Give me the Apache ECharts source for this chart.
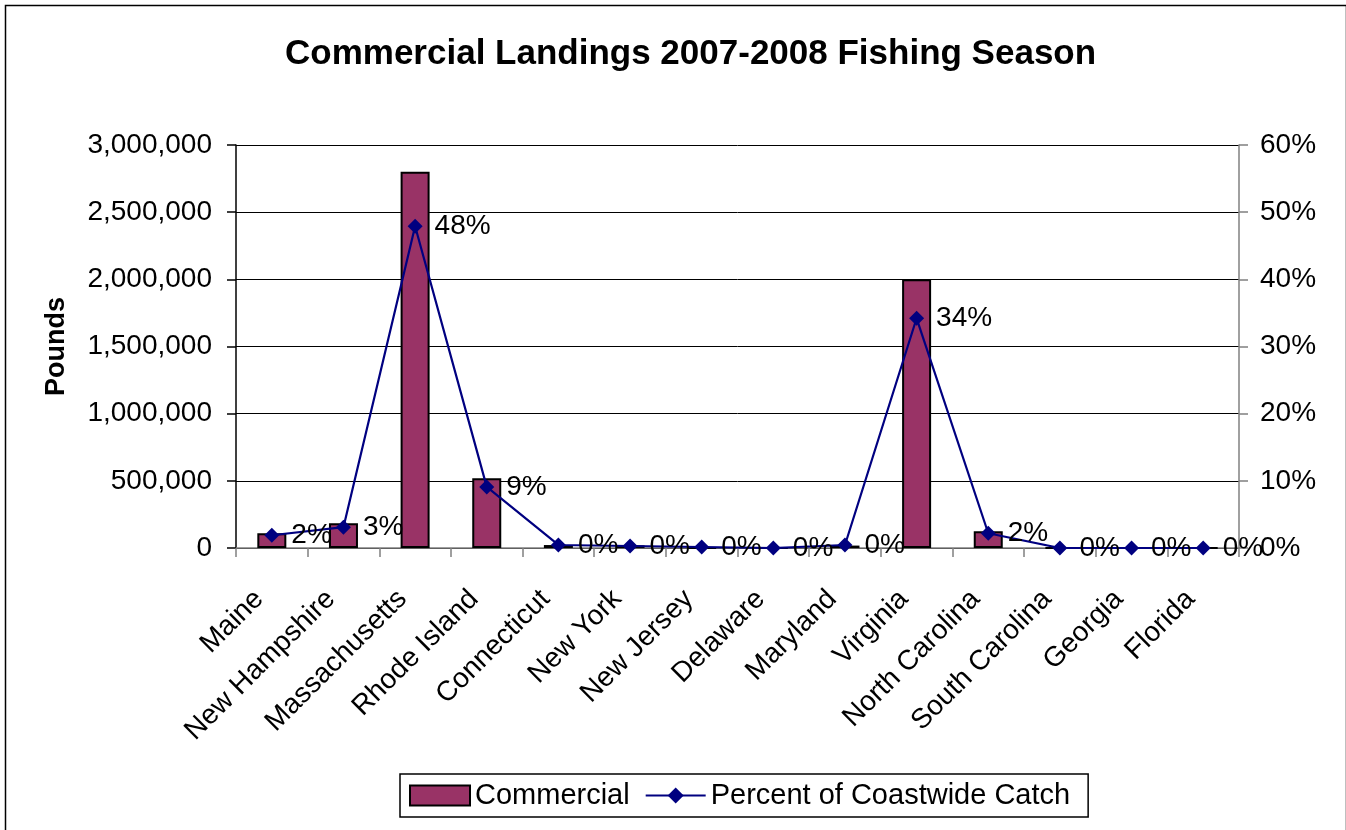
<!DOCTYPE html>
<html>
<head>
<meta charset="utf-8">
<script src="https://cdn.jsdelivr.net/npm/echarts@6/dist/echarts.min.js"></script>
<style>
html,body{margin:0;padding:0;background:#fff;}
#chart{width:1346px;height:830px;}
</style>
</head>
<body>
<div id="chart"></div>
<script>
const categories = ["Maine","New Hampshire","Massachusetts","Rhode Island","Connecticut","New York","New Jersey","Delaware","Maryland","Virginia","North Carolina","South Carolina","Georgia","Florida"];
const commercial = [110000, 185000, 2800000, 520000, 22000, 20000, 0, 0, 18000, 2000000, 125000, 0, 0, 0];
const percentCatch = [1.9, 3.1, 47.9, 9.1, 0.45, 0.3, 0.15, 0.0, 0.45, 34.2, 2.2, 0.0, 0.0, 0.0];
const leftTicks = [0, 500000, 1000000, 1500000, 2000000, 2500000, 3000000];
const rightTicks = [0, 10, 20, 30, 40, 50, 60];

const FONT = '"Liberation Sans", Arial, sans-serif';
const chart = echarts.init(document.getElementById('chart'));
chart.setOption({
  animation: false,
  backgroundColor: '#fff',
  textStyle: { fontFamily: FONT, color: '#000' },
  graphic: [{
    type: 'rect', left: 3, top: 3,
    shape: { width: 1341, height: 840 },
    style: { fill: 'none', stroke: '#000', lineWidth: 1.5 },
    silent: true, z: -1
  }],
  title: {
    text: 'Commercial Landings 2007-2008 Fishing Season',
    left: 280, top: 32,
    textStyle: { fontFamily: FONT, fontSize: 35, fontWeight: 'bold', color: '#000' }
  },
  legend: {
    top: 774, left: 400,
    padding: [7, 18, 7, 9],
    borderColor: '#000', borderWidth: 1.5,
    itemWidth: 60, itemHeight: 20, itemGap: 15,
    textStyle: { fontFamily: FONT, fontSize: 29, color: '#000' },
    data: [
      { name: 'Commercial', icon: 'rect' },
      { name: 'Percent of Coastwide Catch' }
    ]
  },
  grid: { left: 236, right: 107, top: 145, bottom: 282, containLabel: false },
  xAxis: {
    type: 'category', data: categories,
    boundaryGap: true,
    axisLine: { lineStyle: { color: '#808080', width: 1.5 } },
    axisTick: { show: true, alignWithLabel: false, length: 9, lineStyle: { color: '#808080', width: 1.5 } },
    axisLabel: {
      interval: 0, rotate: 45, margin: 34,
      padding: [0, 18, 0, 0],
      fontFamily: FONT, fontSize: 28, color: '#000'
    }
  },
  yAxis: [{
    type: 'value', min: 0, max: 3000000, interval: 500000,
    name: 'Pounds', nameLocation: 'middle', nameGap: 166, nameRotate: 90,
    nameTextStyle: { fontFamily: FONT, fontSize: 27, fontWeight: 'bold', color: '#000' },
    axisLine: { show: true, lineStyle: { color: '#000', width: 1.5 } },
    axisTick: { show: true, length: 9, lineStyle: { color: '#000', width: 1.5 } },
    axisLabel: {
      margin: 24, fontFamily: FONT, fontSize: 28, color: '#000',
      formatter: v => leftTicks.includes(v) ? v.toLocaleString('en-US') : ''
    },
    splitLine: { show: true, lineStyle: { color: '#000', width: 1 } }
  }, {
    type: 'value', min: 0, max: 60, interval: 10, position: 'right',
    axisLine: { show: true, lineStyle: { color: '#808080', width: 1.5 } },
    axisTick: { show: true, length: 9, lineStyle: { color: '#808080', width: 1.5 } },
    axisLabel: {
      margin: 21, fontFamily: FONT, fontSize: 28, color: '#000',
      formatter: v => rightTicks.includes(v) ? v + '%' : ''
    },
    splitLine: { show: false }
  }],
  series: [{
    name: 'Commercial', type: 'bar', yAxisIndex: 0,
    data: commercial,
    barWidth: 29,
    itemStyle: { color: '#993366', borderColor: '#000', borderWidth: 2 },
    z: 2
  }, {
    name: 'Percent of Coastwide Catch', type: 'line', yAxisIndex: 1,
    data: percentCatch,
    symbol: 'diamond', symbolSize: 15,
    lineStyle: { color: '#000080', width: 2.2 },
    itemStyle: { color: '#000080' },
    label: {
      show: true, position: 'right', distance: 12,
      fontFamily: FONT, fontSize: 28, color: '#000',
      formatter: p => Math.round(p.value) + '%'
    },
    z: 3
  }]
});
</script>
</body>
</html>
